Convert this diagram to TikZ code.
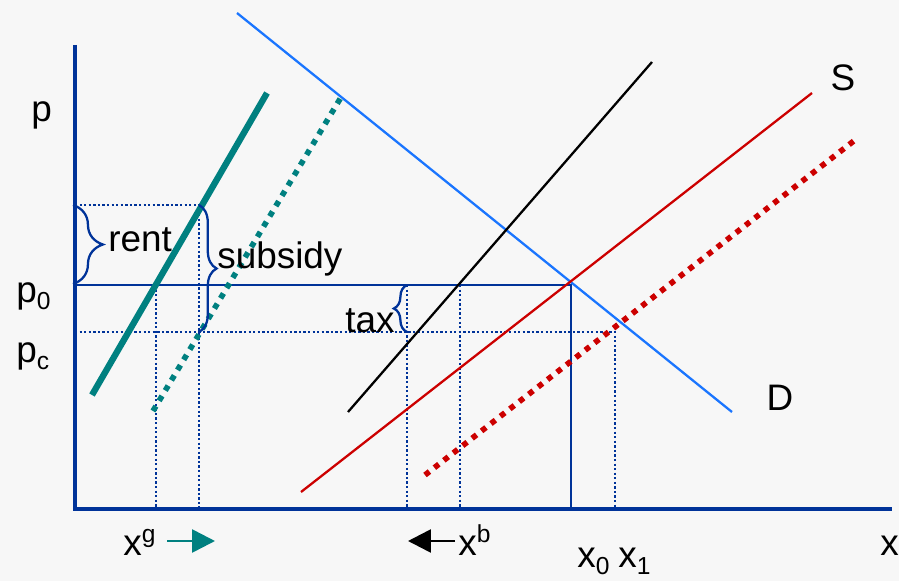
\documentclass[tikz,border=0pt]{standalone}
\usepackage{fontspec}
\setmainfont{Liberation Sans}
\usepackage{xcolor}
\usetikzlibrary{arrows.meta,decorations.pathreplacing}

\definecolor{paper}{HTML}{F7F7F7}
\definecolor{axisblue}{HTML}{003399}
\definecolor{demandblue}{HTML}{1A75FF}
\definecolor{supplyred}{HTML}{CC0000}
\definecolor{govteal}{HTML}{008080}

\newcommand{\lowidx}[1]{\raisebox{-4pt}{\fontsize{14}{14}\selectfont #1}}
\newcommand{\upidx}[1]{\raisebox{7pt}{\fontsize{14}{14}\selectfont #1}}

\begin{document}
\begin{tikzpicture}[
    x=0.02cm, y=-0.02cm,
    lbl/.style={inner sep=0pt, font=\fontsize{21}{24}\selectfont},
    axisline/.style={draw=axisblue, line width=1.8pt},
    priceline/.style={draw=axisblue, line width=1.4pt},
    guide/.style={draw=axisblue, line width=1.5pt, dash pattern=on 1.3pt off 1.3pt},
    curve/.style={line width=1.3pt},
    shifted/.style={line width=3.2pt, dash pattern=on 3.2pt off 3.6pt},
    bracket/.style={draw=axisblue, line width=1.3pt, decorate},
    shiftarrow/.style={-{Triangle[length=13pt,width=13pt]}, line width=1.5pt}
]

% Background
\fill[paper] (0,0) rectangle (899,581);
\useasboundingbox (0,0) rectangle (899,581);

% Axes
\draw[axisline] (75,45) -- (75,509) -- (892,509);

% Price levels
\draw[priceline] (75,285) -- (571,285) -- (571,509);
\draw[guide] (75,332) -- (615,332) -- (615,509);
\draw[guide] (75,205) -- (201,205);
\draw[guide] (199,205) -- (199,509);
\draw[guide] (156,285) -- (156,509);
\draw[guide] (407,285) -- (407,509);
\draw[guide] (460,285) -- (460,509);

% Demand and supply
\draw[curve, demandblue] (237,13) -- (732,412);
\draw[curve, supplyred] (301,492) -- (812,93);
\draw[shifted, supplyred] (425,475) -- (855,140);
\draw[curve, black] (348,412) -- (652,62);
\draw[line width=3.6pt, govteal] (92,395) -- (267,93);
\draw[shifted, govteal] (153,411) -- (343,94);

% Braces
\draw[bracket, decoration={brace, amplitude=17pt}] (73,205) -- (73,284);
\draw[bracket, decoration={brace, amplitude=10pt}] (199,205) -- (199,332);
\draw[bracket, decoration={brace, amplitude=7.5pt}] (407,332) -- (407,285);

% Labels
\node[lbl, anchor=base west] (plab) at (31,122) {p};
\node[lbl, anchor=base west] (p0lab) at (16,302) {p\lowidx{0}};
\node[lbl, anchor=base west] (pclab) at (16,362) {p\lowidx{c}};
\node[lbl, anchor=base west] (rentlab) at (108,251) {rent};
\node[lbl, anchor=base west] (sublab) at (217,268) {subsidy};
\node[lbl, anchor=base east] (taxlab) at (395,332) {tax};
\node[lbl] (slab) at (843,78) {S};
\node[lbl] (dlab) at (780,398) {D};
\node[lbl, anchor=base west] (xlab) at (880,555) {x};
\node[lbl, anchor=base west] (xglab) at (123,555) {x\upidx{g}};
\node[lbl, anchor=base west] (xblab) at (458,555) {x\upidx{b}};
\node[lbl, anchor=base west] (x0lab) at (577,567) {x\lowidx{0}};
\node[lbl, anchor=base west] (x1lab) at (618,567) {x\lowidx{1}};

% Shift arrows
\coordinate (gtail) at (167,541);
\coordinate (ghead) at (215,541);
\coordinate (btail) at (455,541);
\coordinate (bhead) at (408,541);
\draw[shiftarrow, govteal] (gtail) -- (ghead);
\draw[shiftarrow, black] (btail) -- (bhead);

\end{tikzpicture}
\end{document}
